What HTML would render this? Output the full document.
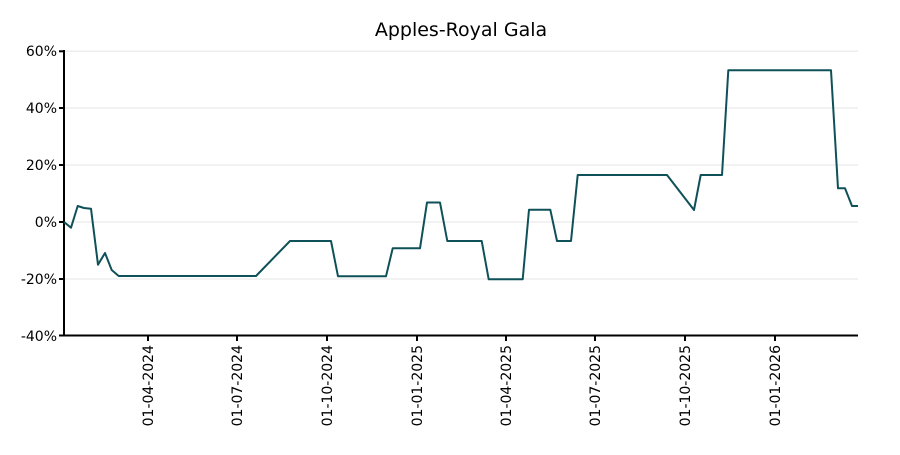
<!DOCTYPE html>
<html><head><meta charset="utf-8"><style>body{margin:0;background:#fff}</style></head><body>
<svg width="900" height="450" xmlns="http://www.w3.org/2000/svg" font-family="DejaVu Sans, sans-serif">
<rect width="900" height="450" fill="#fff"/>
<text x="461" y="36" text-anchor="middle" font-size="19" fill="#000">Apples-Royal Gala</text>
<g stroke="#eeeeee" stroke-width="1.5">
<line x1="64" x2="858" y1="51.3" y2="51.3"/><line x1="64" x2="858" y1="108" y2="108"/><line x1="64" x2="858" y1="165" y2="165"/><line x1="64" x2="858" y1="222" y2="222"/><line x1="64" x2="858" y1="279" y2="279"/>
</g>
<g stroke="#000" stroke-width="2" fill="none">
<line x1="64" y1="50" x2="64" y2="336"/><line x1="63" y1="335.5" x2="858" y2="335.5"/>
<line x1="59" x2="64" y1="51.3" y2="51.3"/><line x1="59" x2="64" y1="108" y2="108"/><line x1="59" x2="64" y1="165" y2="165"/><line x1="59" x2="64" y1="222" y2="222"/><line x1="59" x2="64" y1="279" y2="279"/><line x1="59" x2="64" y1="335.5" y2="335.5"/>
<line x1="148" x2="148" y1="335" y2="341"/><line x1="237" x2="237" y1="335" y2="341"/><line x1="327" x2="327" y1="335" y2="341"/><line x1="417" x2="417" y1="335" y2="341"/><line x1="506" x2="506" y1="335" y2="341"/><line x1="595" x2="595" y1="335" y2="341"/><line x1="685" x2="685" y1="335" y2="341"/><line x1="775" x2="775" y1="335" y2="341"/>
</g>
<g font-size="14" fill="#000" text-anchor="end">
<text x="57" y="56">60%</text><text x="57" y="113">40%</text><text x="57" y="170">20%</text><text x="57" y="227">0%</text><text x="57" y="284">-20%</text><text x="57" y="341">-40%</text>
</g>
<g font-size="14" fill="#000" text-anchor="end">
<text transform="translate(153,345) rotate(-90)">01-04-2024</text>
<text transform="translate(242,345) rotate(-90)">01-07-2024</text>
<text transform="translate(332,345) rotate(-90)">01-10-2024</text>
<text transform="translate(422,345) rotate(-90)">01-01-2025</text>
<text transform="translate(511,345) rotate(-90)">01-04-2025</text>
<text transform="translate(600,345) rotate(-90)">01-07-2025</text>
<text transform="translate(690,345) rotate(-90)">01-10-2025</text>
<text transform="translate(780,345) rotate(-90)">01-01-2026</text>
</g>
<polyline fill="none" stroke="#0e5158" stroke-width="2" stroke-linejoin="round" points="64,222 71,227.7 77.7,206 84,208 91,208.7 98,264.7 105,253 111.7,270 118.7,276 256,276 290,241 331,241 338,276.3 386,276.3 392.7,248.3 420,248.3 427,202.5 440,202.5 447.3,241 481.7,241 488.7,279.3 522.7,279.3 529,209.7 550.3,209.7 557,241 571,241 577.7,175 667,175 694,210 700.7,175 722,175 728.3,70.3 831,70.3 838,188.3 845,188.3 852,206 858,206"/>
</svg>
</body></html>
